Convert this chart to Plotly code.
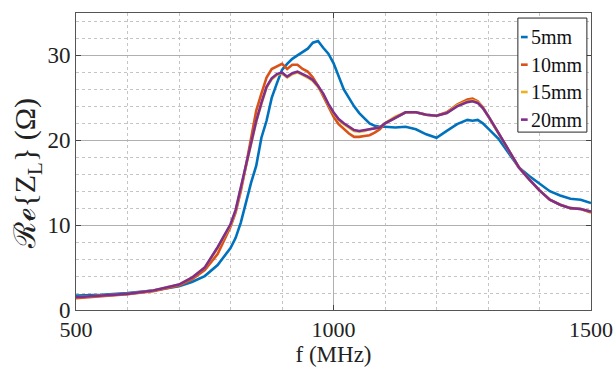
import plotly.graph_objects as go

freq = [500, 550, 600, 650, 700, 725, 750, 775, 800, 810, 820, 830, 840, 850, 860, 870, 880, 890,
        900, 910, 920, 930, 940, 950, 960, 970, 980, 990, 1000, 1010, 1020, 1030, 1040, 1050,
        1060, 1070, 1080, 1090, 1100, 1120, 1140, 1160, 1180, 1200, 1220, 1240, 1260, 1270,
        1280, 1290, 1300, 1320, 1340, 1360, 1380, 1400, 1420, 1440, 1460, 1480, 1500]

re_5mm = [1.7, 1.8, 2.0, 2.3, 2.8, 3.3, 4.0, 5.3, 7.3, 8.5, 10.3, 12.8, 15.0, 17.0, 20.3, 22.3, 25.0, 26.7,
          28.3, 29.0, 29.6, 30.0, 30.4, 30.8, 31.5, 31.7, 30.9, 30.2, 29.1, 27.5, 26.0, 25.0, 24.0, 23.2,
          22.6, 22.0, 21.7, 21.6, 21.6, 21.5, 21.6, 21.3, 20.7, 20.3, 21.1, 21.9, 22.4, 22.3,
          22.4, 22.0, 21.4, 20.2, 18.5, 16.8, 15.8, 14.9, 14.0, 13.5, 13.1, 13.0, 12.6]

re_10mm = [1.4, 1.6, 1.85, 2.2, 2.9, 3.6, 4.7, 6.6, 9.8, 11.5, 14.0, 17.0, 20.5, 23.5, 25.5, 27.4, 28.4, 28.7,
           29.0, 28.4, 28.9, 28.9, 28.4, 28.1, 27.4, 26.4, 25.2, 23.9, 22.8, 21.9, 21.3, 20.8, 20.4, 20.4,
           20.5, 20.6, 20.9, 21.3, 22.0, 22.7, 23.3, 23.3, 23.0, 22.9, 23.3, 24.2, 24.8, 24.9,
           24.6, 23.9, 22.9, 20.9, 18.8, 16.8, 15.4, 14.1, 13.0, 12.4, 12.0, 11.9, 11.5]

re_15mm = [1.5, 1.7, 1.9, 2.3, 3.0, 3.8, 5.0, 7.3, 10.0, 11.7, 14.4, 17.2, 19.8, 22.2, 24.3, 26.2, 27.2, 27.7,
           27.9, 27.4, 27.8, 28.0, 27.7, 27.4, 27.0, 26.3, 25.4, 24.2, 23.2, 22.4, 21.9, 21.5, 21.1, 21.0,
           21.1, 21.3, 21.4, 21.5, 22.0, 22.8, 23.3, 23.3, 23.0, 22.9, 23.2, 24.1, 24.6, 24.7,
           24.5, 23.8, 22.9, 20.9, 18.8, 16.8, 15.4, 14.1, 13.0, 12.4, 12.0, 11.9, 11.6]

re_20mm = [1.5, 1.7, 1.9, 2.3, 3.0, 3.8, 5.0, 7.4, 10.1, 11.8, 14.5, 17.3, 19.9, 22.3, 24.4, 26.3, 27.3, 27.8,
           28.0, 27.5, 27.9, 28.1, 27.8, 27.5, 27.1, 26.4, 25.5, 24.3, 23.3, 22.5, 22.0, 21.6, 21.2, 21.1,
           21.2, 21.3, 21.4, 21.5, 22.0, 22.7, 23.3, 23.3, 23.0, 22.9, 23.2, 24.0, 24.5, 24.6,
           24.4, 23.8, 22.9, 20.9, 18.8, 16.8, 15.4, 14.1, 13.0, 12.4, 12.0, 11.9, 11.6]

series_names = ["5mm", "10mm", "15mm", "20mm"]
series_values = [re_5mm, re_10mm, re_15mm, re_20mm]
colors = ["#0072BD", "#D95319", "#EDB120", "#7E2F8E"]

x_ticks = [500, 1000, 1500]
y_ticks = [0, 10, 20, 30]

FONT = "Liberation Serif, Times New Roman, serif"

fig = go.Figure()
for name, vals, col in zip(series_names, series_values, colors):
    fig.add_trace(go.Scatter(x=freq, y=vals, name=name, mode="lines",
                             line=dict(color=col, width=2.6), showlegend=False))

# compact MATLAB-style legend (short colour stubs) placed in plot-area coordinates
leg_x0, leg_x1, leg_y0, leg_y1 = 0.858, 0.992, 0.599, 0.983
row_y = [0.919, 0.826, 0.734, 0.641]
fig.add_shape(type="rect", xref="paper", yref="paper", x0=leg_x0, x1=leg_x1, y0=leg_y0, y1=leg_y1,
              line=dict(color="#262626", width=1), fillcolor="white", layer="above")
for name, col, yy in zip(series_names, colors, row_y):
    fig.add_shape(type="line", xref="paper", yref="paper", x0=0.864, x1=0.877, y0=yy, y1=yy,
                  line=dict(color=col, width=2.6), layer="above")
    fig.add_annotation(xref="paper", yref="paper", x=0.879, y=yy, text=name, showarrow=False,
                       xanchor="left", yanchor="middle",
                       font=dict(family=FONT, size=20, color="#111"))

fig.update_layout(
    width=614, height=380,
    margin=dict(l=76, r=23, t=13, b=70),
    paper_bgcolor="white", plot_bgcolor="white",
    font=dict(family=FONT, color="#262626"),
    showlegend=False,
    xaxis=dict(range=[500, 1500], tickvals=x_ticks, ticks="inside", ticklen=5,
               tickfont=dict(family=FONT, size=22, color="#222"), ticklabeloverflow="allow",
               showline=True, mirror="ticks", linecolor="#555", linewidth=1,
               showgrid=True, gridcolor="#b0b0b0", gridwidth=1,
               minor=dict(dtick=100, tick0=500, showgrid=True, griddash="dot",
                          gridcolor="#c4c4c4", gridwidth=1, ticks=""),
               zeroline=False, automargin=False,
               title=dict(text="f (MHz)", font=dict(family=FONT, size=23, color="#222"), standoff=4)),
    yaxis=dict(range=[0, 35], tickvals=y_ticks, ticks="inside", ticklen=5,
               tickfont=dict(family=FONT, size=23, color="#222"), ticklabeloverflow="allow",
               showline=True, mirror="ticks", linecolor="#555", linewidth=1,
               showgrid=True, gridcolor="#b0b0b0", gridwidth=1,
               minor=dict(dtick=2, tick0=0, showgrid=True, griddash="dot",
                          gridcolor="#c4c4c4", gridwidth=1, ticks=""),
               zeroline=False, automargin=False,
               title=dict(text="ℛℯ{Z<sub>L</sub>} (Ω)&nbsp;&nbsp;&nbsp;",
                          font=dict(family=FONT, size=30, color="#222"), standoff=2)),
)

fig.write_html("out.html", config={"displayModeBar": False},
               post_script="document.body.style.margin='0';")
